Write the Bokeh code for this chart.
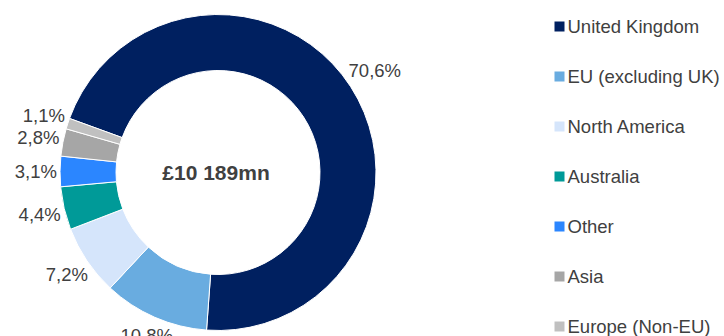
import math
from bokeh.plotting import figure
from bokeh.models import Range1d, ColumnDataSource
from bokeh.embed import file_html
from bokeh.resources import INLINE
from bokeh.core.properties import value

# ---- data ----
categories = ["United Kingdom", "EU (excluding UK)", "North America", "Australia",
              "Other", "Asia", "Europe (Non-EU)"]
shares = [70.6, 10.8, 7.2, 4.4, 3.1, 2.8, 1.1]
share_labels = ["70,6%", "10,8%", "7,2%", "4,4%", "3,1%", "2,8%", "1,1%"]
colors = ["#002060", "#69ACE0", "#D5E5FB", "#009A98", "#2B86FF", "#A6A6A6", "#C0C0C0"]
total_label = "£10 189mn"

# ---- layout ----
W, H = 724, 336
CX, CY = 217.5, H - 172
R_OUT, R_IN = 158, 102
FIRST_ANGLE = 290.0  # degrees clockwise from 12 o'clock
FONT = "Liberation Sans"
TXT = "#404040"
LABEL_PX = 18.5
GAP = 3

p = figure(width=W, height=H, x_range=Range1d(0, W), y_range=Range1d(0, H),
           output_backend="svg", toolbar_location=None, min_border=0,
           x_axis_type=None, y_axis_type=None, outline_line_color=None,
           background_fill_color="white", border_fill_color="white")
p.xgrid.visible = False
p.ygrid.visible = False

total = sum(shares)
starts, ends, mids = [], [], []
cum = 0.0
for s in shares:
    a0 = FIRST_ANGLE + 360.0 * cum / total
    a1 = a0 + 360.0 * s / total
    starts.append(math.radians(90.0 - a0))
    ends.append(math.radians(90.0 - a1))
    mids.append(math.radians((a0 + a1) / 2.0))
    cum += s

src = ColumnDataSource(dict(start=starts, end=ends, color=colors, cat=categories))
p.annular_wedge(x=CX, y=CY, inner_radius=R_IN, outer_radius=R_OUT,
                start_angle="start", end_angle="end", direction="clock",
                fill_color="color", line_color="white", line_width=1, source=src)

# approximate Arial widths (em) for label placement
WID = {"0": .556, "1": .556, "2": .556, "3": .556, "4": .556, "5": .556, "6": .556,
       "7": .556, "8": .556, "9": .556, ",": .278, "%": .889}
lx, ly = [], []
for lab, m in zip(share_labels, mids):
    w = sum(WID.get(c, .556) for c in lab) * LABEL_PX
    h = 0.75 * LABEL_PX
    ux, uy = math.sin(m), math.cos(m)
    r = R_OUT + abs(ux) * w / 2 + abs(uy) * h / 2 + GAP
    lx.append(CX + r * ux)
    ly.append(CY + r * uy)

p.text(x=lx, y=ly, text=share_labels, text_font=value(FONT),
       text_font_size=value(f"{LABEL_PX}px"), text_color=TXT,
       text_align="center", text_baseline="middle")

p.text(x=[CX - 2], y=[CY], text=[total_label], text_font=value(FONT),
       text_font_size=value("21px"), text_font_style="bold", text_color=TXT,
       text_align="center", text_baseline="middle")

# legend
LEG_X, LEG_TOP, LEG_STEP = 559, 26, 50
leg_y = [H - LEG_TOP - LEG_STEP * i for i in range(len(categories))]
p.rect(x=[LEG_X] * len(categories), y=leg_y, width=10, height=10,
       fill_color=colors, line_color=None)
p.text(x=[LEG_X + 8] * len(categories), y=leg_y, text=categories,
       text_font=value(FONT), text_font_size=value(f"{LABEL_PX}px"),
       text_color=TXT, text_align="left", text_baseline="middle")

open("out.html", "w").write(file_html(p, INLINE))
